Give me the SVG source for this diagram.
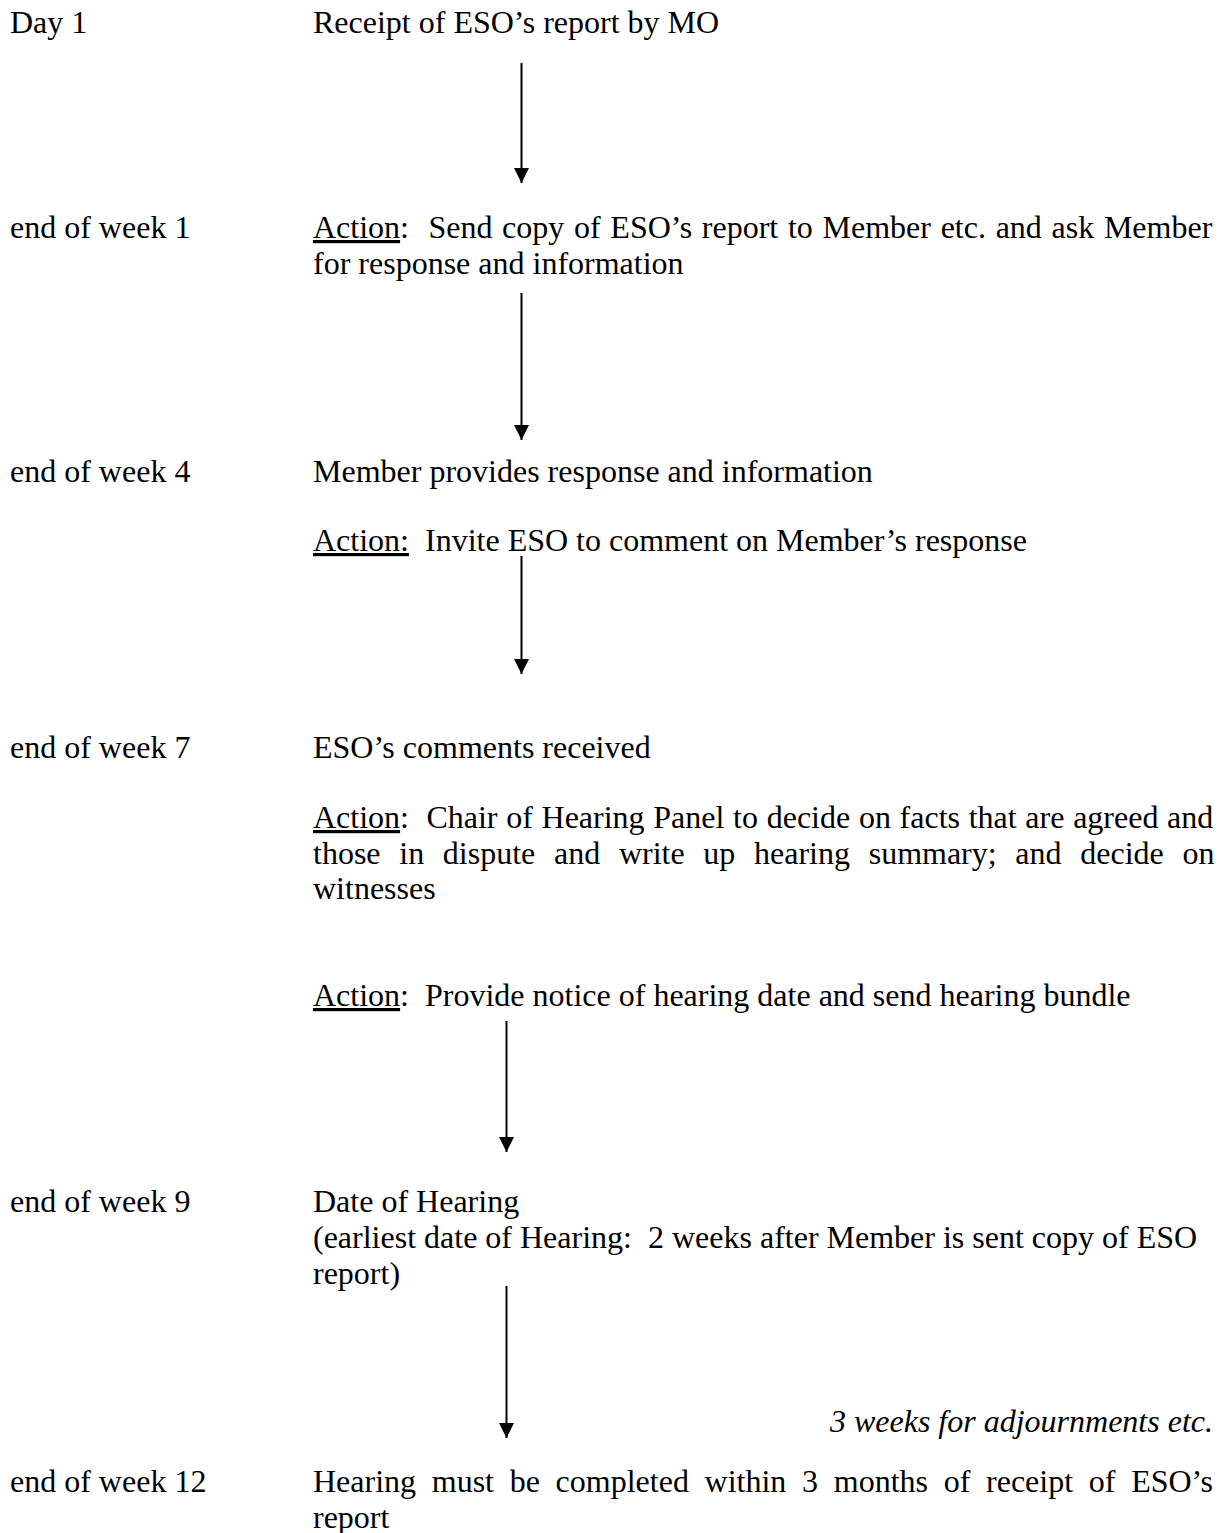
<svg xmlns="http://www.w3.org/2000/svg" width="1225" height="1533" viewBox="0 0 1225 1533">
  <style>
    text { font-family: "Liberation Serif", "Times New Roman", serif; font-size: 32px; fill: #000; white-space: pre; }
    .it { font-style: italic; }
    .u { text-decoration: underline; }
    .conn line { stroke: #000; stroke-width: 2; fill: none; }
  </style>
  <defs>
    <marker id="ah" viewBox="0 0 15 15" refX="15" refY="7.5" markerWidth="15" markerHeight="15" markerUnits="userSpaceOnUse" orient="auto">
      <path d="M0,0 L15,7.5 L0,15 z" fill="#000"/>
    </marker>
  </defs>
  <rect x="0" y="0" width="1225" height="1533" fill="#fff"/>

  <g id="step-day1">
    <text x="10" y="33">Day 1</text>
    <text x="313" y="33">Receipt of ESO’s report by MO</text>
  </g>

  <g id="step-week1">
    <text x="10" y="238">end of week 1</text>
    <text x="313" y="238" word-spacing="1.7"><tspan class="u">Action</tspan>:  Send copy of ESO’s report to Member etc. and ask Member</text>
    <text x="313" y="274">for response and information</text>
  </g>

  <g id="step-week4">
    <text x="10" y="482">end of week 4</text>
    <text x="313" y="482">Member provides response and information</text>
    <text x="313" y="551"><tspan class="u">Action:</tspan>  Invite ESO to comment on Member’s response</text>
  </g>

  <g id="step-week7">
    <text x="10" y="758">end of week 7</text>
    <text x="313" y="758">ESO’s comments received</text>
    <text x="313" y="828" word-spacing="0.7"><tspan class="u">Action</tspan>:  Chair of Hearing Panel to decide on facts that are agreed and</text>
    <text x="313" y="864" word-spacing="10.7">those in dispute and write up hearing summary; and decide on</text>
    <text x="313" y="899">witnesses</text>
    <text x="313" y="1006"><tspan class="u">Action</tspan>:  Provide notice of hearing date and send hearing bundle</text>
  </g>

  <g id="step-week9">
    <text x="10" y="1212">end of week 9</text>
    <text x="313" y="1212">Date of Hearing</text>
    <text x="313" y="1248">(earliest date of Hearing:  2 weeks after Member is sent copy of ESO</text>
    <text x="313" y="1284">report)</text>
  </g>

  <g id="note-adjournments">
    <text class="it" x="1213" y="1432" text-anchor="end">3 weeks for adjournments etc.</text>
  </g>

  <g id="step-week12">
    <text x="10" y="1492">end of week 12</text>
    <text x="313" y="1492" word-spacing="7.7">Hearing must be completed within 3 months of receipt of ESO’s</text>
    <text x="313" y="1528">report</text>
  </g>

  <g id="connectors" class="conn">
    <line x1="521.5" y1="63" x2="521.5" y2="183" marker-end="url(#ah)"/>
    <line x1="521.5" y1="293" x2="521.5" y2="440" marker-end="url(#ah)"/>
    <line x1="521.5" y1="556" x2="521.5" y2="674" marker-end="url(#ah)"/>
    <line x1="506.5" y1="1021" x2="506.5" y2="1152" marker-end="url(#ah)"/>
    <line x1="506.5" y1="1286" x2="506.5" y2="1438" marker-end="url(#ah)"/>
  </g>
</svg>
